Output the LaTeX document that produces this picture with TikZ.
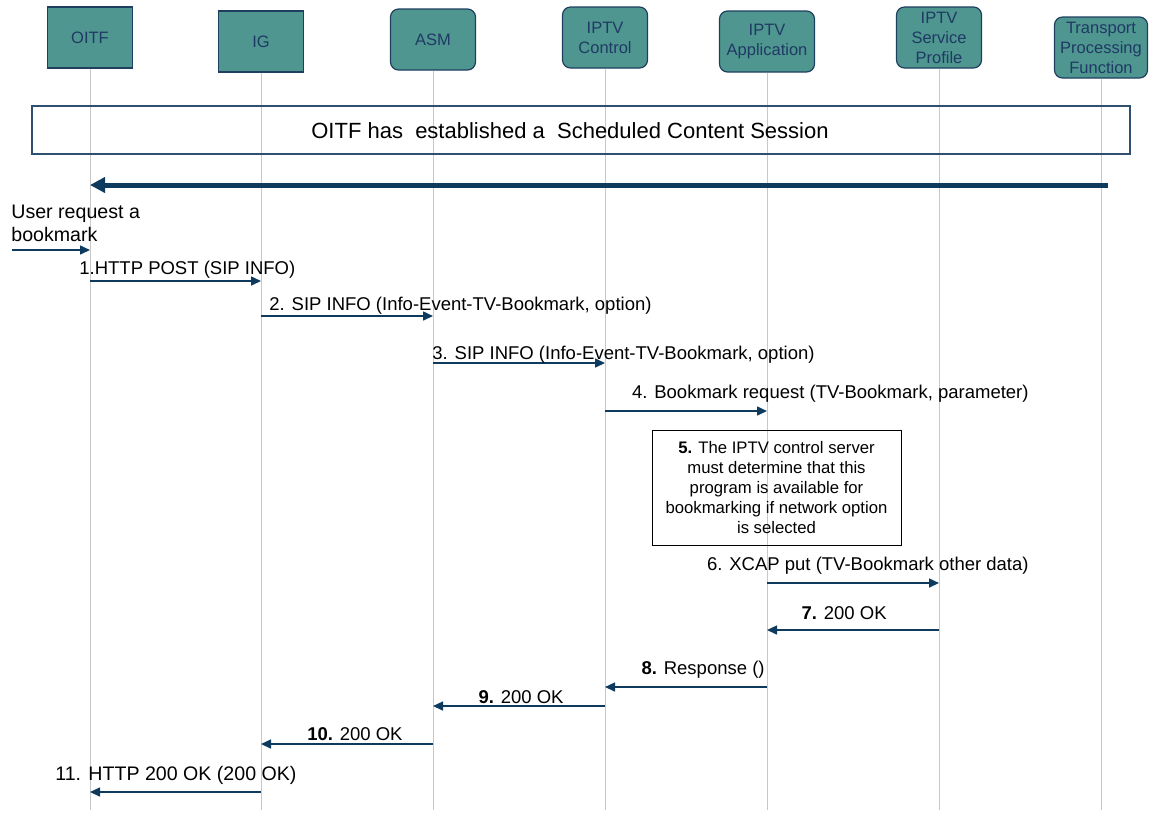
\documentclass[tikz,border=0pt]{standalone}
\usepackage{fontspec}
\setmainfont{Liberation Sans}
\usepackage{xcolor}
\usetikzlibrary{arrows.meta,positioning}

\definecolor{boxfill}{HTML}{4F9690}
\definecolor{boxline}{HTML}{1F3F5F}
\definecolor{boxtext}{HTML}{1F3A64}
\definecolor{msgcol}{HTML}{0E3A5E}
\definecolor{lifecol}{HTML}{C8C8C8}
\definecolor{sessline}{HTML}{2F4F6F}

\begin{document}
\begin{tikzpicture}[
  x=0.5pt, y=-0.5pt,
  >={Triangle[length=5pt, width=4.5pt]},
  actor/.style={draw=boxline, fill=boxfill, text=boxtext, line width=0.6pt, align=center,
    minimum width=42.5pt, minimum height=30.5pt, inner sep=1pt, font=\fontsize{8.25}{10}\selectfont},
  ractor/.style={actor, rounded corners=4pt},
  life/.style={draw=lifecol, line width=0.5pt},
  msg/.style={->, draw=msgcol, line width=0.75pt},
  bigflow/.style={-{Triangle[length=7.5pt, width=7.5pt]}, draw=msgcol, line width=2.5pt},
  lbl/.style={font=\fontsize{9.25}{11}\selectfont, inner sep=0pt}
]
\useasboundingbox (0,0) rectangle (1149,816);

% ── Participants ──
\node[actor] (oitf) at (90,37.5) {OITF};
\node[actor] (ig) at (261,41.5) {IG};
\node[ractor] (asm) at (433,39.5) {ASM};
\node[ractor] (ctrl) at (605,37.5) {IPTV\\Control};
\node[ractor, minimum width=47.5pt] (app) at (767,41.5) {IPTV\\Application};
\node[ractor] (prof) at (939,37.5) {IPTV\\Service\\Profile};
\node[ractor, minimum width=46.5pt] (tpf) at (1101,47.5) {Transport\\Processing\\Function};

% ── Lifelines ──
\draw[life] (oitf.south) -- (oitf.south |- 0,810);
\draw[life] (ig.south) -- (ig.south |- 0,810);
\draw[life] (asm.south) -- (asm.south |- 0,810);
\draw[life] (ctrl.south) -- (ctrl.south |- 0,810);
\draw[life] (app.south) -- (app.south |- 0,810);
\draw[life] (prof.south) -- (prof.south |- 0,810);
\draw[life] (tpf.south) -- (tpf.south |- 0,810);

% ── Established session ──
\node[draw=sessline, line width=0.6pt, minimum width=549pt, minimum height=24pt, inner sep=0pt]
  (sess) at (581,130) {};
\node[font=\fontsize{11}{13}\selectfont, inner sep=0pt] (sesstxt) at (570,131)
  {OITF has\ \ established a\ \ Scheduled Content Session};

\coordinate (tpfend) at ([xshift=3.5pt]tpf.south);
\draw[bigflow] (tpfend |- 0,185) -- (oitf.south |- 0,185);

% ── User trigger ──
\node[font=\fontsize{9.8}{11.5}\selectfont, align=left, anchor=west, inner sep=0pt] (usertxt) at (11,223.5)
  {User request a\\bookmark};
\coordinate (user) at (12,250);
\draw[msg] (user) -- (oitf.south |- user);

% ── Requests ──
\draw[msg] (oitf.south |- 0,281) -- (ig.south |- 0,281);
\node[lbl, anchor=west] (l1) at (79,270) {1.HTTP POST (SIP INFO)};

\draw[msg] (ig.south |- 0,316) -- (asm.south |- 0,316);
\node[lbl, anchor=west] (l2) at (269,306) {2. SIP INFO (Info-Event-TV-Bookmark, option)};

\draw[msg] (asm.south |- 0,363) -- (ctrl.south |- 0,363);
\node[lbl, anchor=west] (l3) at (432,355) {3. SIP INFO (Info-Event-TV-Bookmark, option)};

\draw[msg] (ctrl.south |- 0,411) -- (app.south |- 0,411);
\node[lbl, anchor=east] (l4) at (1029,394) {4. Bookmark request (TV-Bookmark, parameter)};

% Check in application
\node[draw=black, line width=0.5pt, minimum width=124.5pt, minimum height=57.5pt, inner sep=0pt,
  align=center, font=\fontsize{8.35}{10}\selectfont] (note) at (776.5,487.5)
  {\textbf{5.} The IPTV control server\\must determine that this\\program is available for\\
   bookmarking if network option\\is selected};

\draw[msg] (app.south |- 0,583) -- (prof.south |- 0,583);
\node[lbl, anchor=east] (l6) at (1029,566) {6. XCAP put (TV-Bookmark other data)};

% ── Responses ──
\draw[msg] (prof.south |- 0,630) -- (app.south |- 0,630);
\node[lbl, anchor=east] (l7) at (887,613) {\textbf{7.} 200 OK};

\draw[msg] (app.south |- 0,687) -- (ctrl.south |- 0,687);
\node[lbl, anchor=east] (l8) at (765,670) {\textbf{8.} Response ()};

\draw[msg] (ctrl.south |- 0,706) -- (asm.south |- 0,706);
\node[lbl, anchor=east] (l9) at (564,697) {\textbf{9.} 200 OK};

\draw[msg] (asm.south |- 0,744) -- (ig.south |- 0,744);
\node[lbl, anchor=east] (l10) at (403,734) {\textbf{10.} 200 OK};

\draw[msg] (ig.south |- 0,792) -- (oitf.south |- 0,792);
\node[lbl, anchor=west, font=\fontsize{9.8}{11}\selectfont] (l11) at (55,775) {11. HTTP 200 OK (200 OK)};

\end{tikzpicture}
\end{document}
